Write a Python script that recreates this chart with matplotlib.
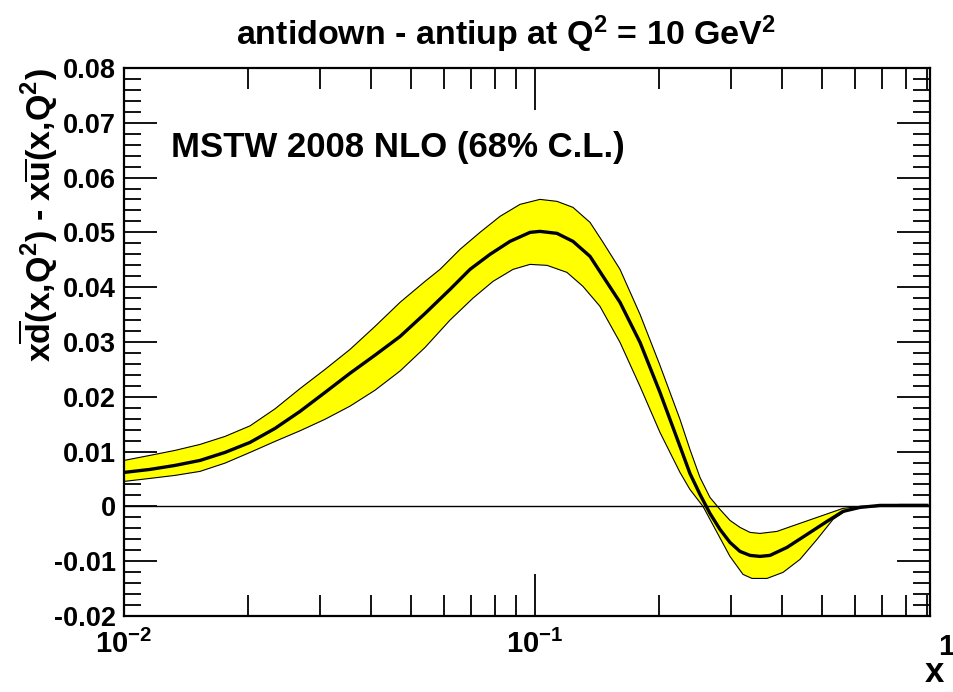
import matplotlib
matplotlib.use("Agg")
import matplotlib.pyplot as plt
from matplotlib.ticker import MultipleLocator, FixedLocator, FuncFormatter, NullFormatter

plt.rcParams["font.family"] = ["Liberation Sans", "DejaVu Sans"]
plt.rcParams["font.weight"] = "bold"
plt.rcParams["axes.unicode_minus"] = False
plt.rcParams["mathtext.fontset"] = "custom"
plt.rcParams["mathtext.rm"] = "Liberation Sans:bold"
plt.rcParams["mathtext.bf"] = "Liberation Sans:bold"
plt.rcParams["mathtext.it"] = "Liberation Sans:bold"

# central value
x_central = [0.0100, 0.01157, 0.01331, 0.01531, 0.01761, 0.02026, 0.02330, 0.02681,
             0.03084, 0.03548, 0.04081, 0.04694, 0.05400, 0.06212, 0.06947, 0.07771,
             0.08693, 0.09724, 0.1028, 0.1131, 0.1237, 0.1361, 0.1464, 0.1610,
             0.1801, 0.2014, 0.2253, 0.2382, 0.2520, 0.2665, 0.2819, 0.2981,
             0.3153, 0.3335, 0.3526, 0.3730, 0.4103, 0.4590, 0.5133, 0.5614,
             0.6176, 0.6909, 0.7729, 0.8991]
y_central = [0.00620, 0.00675, 0.00748, 0.00839, 0.00985, 0.01168, 0.01423, 0.01734,
             0.02080, 0.02430, 0.02760, 0.03100, 0.03520, 0.03960, 0.04325, 0.04599,
             0.04836, 0.05000, 0.05018, 0.04982, 0.04836, 0.04562, 0.04197, 0.03723,
             0.02993, 0.02080, 0.01095, 0.00602, 0.00219, -0.00128, -0.00420, -0.00657,
             -0.00821, -0.00894, -0.00912, -0.00894, -0.00748, -0.00511, -0.00274, -0.00091,
             -0.00018, 0.00018, 0.00018, 0.00018]

# upper edge of the 68% C.L. band
x_upper = [0.0100, 0.01157, 0.01331, 0.01531, 0.01761, 0.02026, 0.02330, 0.02681,
           0.03084, 0.03548, 0.04081, 0.04694, 0.05400, 0.05873, 0.06569, 0.07347,
           0.08219, 0.09194, 0.1028, 0.1131, 0.1237, 0.1361, 0.1464, 0.1610,
           0.1801, 0.2014, 0.2253, 0.2382, 0.2520, 0.2665, 0.2819, 0.2981,
           0.3153, 0.3335, 0.3526, 0.3879, 0.4339, 0.4936, 0.5614, 0.6176,
           0.6909, 0.7729, 0.8991]
y_upper = [0.00839, 0.00931, 0.01022, 0.01131, 0.01277, 0.01470, 0.01780, 0.02150,
           0.02500, 0.02865, 0.03285, 0.03723, 0.04106, 0.04325, 0.04690, 0.05000,
           0.05292, 0.05511, 0.05602, 0.05566, 0.05456, 0.05182, 0.04818, 0.04325,
           0.03504, 0.02573, 0.01588, 0.01040, 0.00529, 0.00164, -0.00055, -0.00255,
           -0.00383, -0.00474, -0.00493, -0.00456, -0.00328, -0.00182, -0.00036, 0.00000,
           0.00018, 0.00036, 0.00036]

# lower edge of the 68% C.L. band
x_lower = [0.0100, 0.01157, 0.01331, 0.01531, 0.01761, 0.02026, 0.02330, 0.02681,
           0.03084, 0.03548, 0.04081, 0.04694, 0.05400, 0.06212, 0.07065, 0.07903,
           0.08841, 0.09724, 0.1070, 0.1196, 0.1308, 0.1439, 0.1610, 0.1801,
           0.2014, 0.2253, 0.2382, 0.2563, 0.2772, 0.2981, 0.3207, 0.3373,
           0.3668, 0.4012, 0.4413, 0.4854, 0.5309, 0.5678, 0.6176, 0.6909,
           0.7729, 0.8991]
y_lower = [0.00456, 0.00511, 0.00566, 0.00639, 0.00790, 0.00985, 0.01186, 0.01380,
           0.01590, 0.01830, 0.02120, 0.02470, 0.02900, 0.03400, 0.03800, 0.04106,
           0.04325, 0.04416, 0.04398, 0.04270, 0.04015, 0.03650, 0.02993, 0.02190,
           0.01350, 0.00620, 0.00310, 0.00000, -0.00474, -0.00912, -0.01241, -0.01314,
           -0.01314, -0.01204, -0.00967, -0.00602, -0.00237, -0.00091, -0.00018, 0.00000,
           0.00000, 0.00000]

x_range = (0.01, 0.915)
y_range = (-0.02, 0.08)
x_major = [0.01, 0.1]
x_major_labels = [r"$\mathbf{10^{-2}}$", r"$\mathbf{10^{-1}}$"]
x_minor = [k * 0.01 for k in range(2, 10)] + [k * 0.1 for k in range(2, 10)]

fig = plt.figure(figsize=(9.54, 6.92), dpi=100)
ax = fig.add_axes([0.130, 0.1098, 0.845, 0.792])

band_x = x_upper + x_lower[::-1]
band_y = y_upper + y_lower[::-1]
ax.fill(band_x, band_y, facecolor="#ffff00", edgecolor="none", zorder=2)
ax.plot(x_upper, y_upper, color="black", lw=0.8, zorder=3)
ax.plot(x_lower, y_lower, color="black", lw=0.8, zorder=3)
ax.plot(x_central, y_central, color="black", lw=2.4, zorder=4)
ax.axhline(0, color="black", lw=1.0, zorder=3)

ax.set_xscale("log")
ax.set_xlim(*x_range)
ax.set_ylim(*y_range)

ax.xaxis.set_major_locator(FixedLocator(x_major))
ax.xaxis.set_minor_locator(FixedLocator(x_minor))
ax.set_xticklabels(x_major_labels)
ax.xaxis.set_minor_formatter(NullFormatter())
ax.yaxis.set_major_locator(MultipleLocator(0.01))
ax.yaxis.set_minor_locator(MultipleLocator(0.002))
ax.yaxis.set_major_formatter(FuncFormatter(lambda v, _: "0" if abs(v) < 1e-9 else f"{v:.2f}"))

ax.tick_params(which="both", direction="in", top=True, right=True, width=1.3, colors="black")
ax.tick_params(axis="y", which="major", length=24, labelsize=19.5, pad=6)
ax.tick_params(axis="y", which="minor", length=12)
ax.tick_params(axis="x", which="major", length=30, labelsize=21, pad=10)
ax.tick_params(axis="x", which="minor", length=15)
for lab in ax.get_yticklabels():
    lab.set_fontweight("bold")
for sp in ax.spines.values():
    sp.set_linewidth(1.6)

# ROOT prints the "1" label at x = 1 just past the frame
ax.text(1.0, -0.071, "1", transform=ax.get_xaxis_transform(),
        ha="center", va="baseline", fontsize=21, fontweight="bold", clip_on=False)

fig.text(0.980, 0.014, "x", ha="center", va="baseline", fontsize=25, fontweight="bold")
ax.set_ylabel(r"x$\overline{\mathbf{d}}$(x,Q$^{\mathbf{2}}$) - x$\overline{\mathbf{u}}$(x,Q$^{\mathbf{2}}$)",
              loc="top", fontsize=24.5, fontweight="bold")
ax.yaxis.set_label_coords(-0.079, 1.0)

ax.text(0.058, 0.855, "MSTW 2008 NLO (68% C.L.)", transform=ax.transAxes,
        fontsize=25, fontweight="bold", ha="left", va="center")

fig.text(0.530, 0.950, r"antidown - antiup at Q$^{\mathbf{2}}$ = 10 GeV$^{\mathbf{2}}$",
         ha="center", va="center", fontsize=24.5, fontweight="bold")

fig.savefig("out.png", dpi=100, facecolor="white")
